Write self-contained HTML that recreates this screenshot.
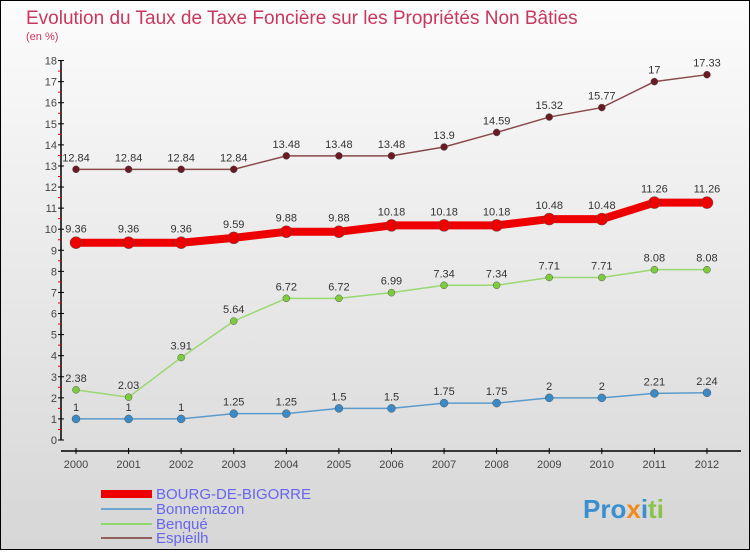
<!DOCTYPE html>
<html><head><meta charset="utf-8"><style>
html,body{margin:0;padding:0}
body{width:750px;height:550px;overflow:hidden;font-family:"Liberation Sans",sans-serif}
#wrap{position:absolute;left:0;top:0;width:748px;height:548px;border:1px solid #000;background:linear-gradient(#fcfcfc,#d6d6d6)}
</style></head><body>
<div id="wrap">
<svg id="chart" width="748" height="548" xmlns="http://www.w3.org/2000/svg">
<text x="25" y="23" font-size="19" fill="#c8385e">Evolution du Taux de Taxe Foncière sur les Propriétés Non Bâties</text>
<text x="25" y="39" font-size="11" fill="#c8385e">(en %)</text>
<g id="axes"></g><g id="series"></g>
<g>
<rect x="100" y="489" width="51" height="8" fill="#ee0000"/>
<text x="155" y="498" font-size="15" fill="#6666ee">BOURG-DE-BIGORRE</text>
<rect x="100" y="507" width="51" height="2" fill="#6fa6cc"/>
<text x="155" y="513" font-size="15" fill="#6666ee">Bonnemazon</text>
<rect x="100" y="522" width="51" height="2" fill="#8fd86a"/>
<text x="155" y="528" font-size="15" fill="#6666ee">Benqué</text>
<rect x="100" y="536" width="51" height="2" fill="#936060"/>
<text x="155" y="542" font-size="15" fill="#6666ee">Espieilh</text>
</g>
<g>
<text x="582" y="517" font-size="26" font-weight="bold" fill="#3a8fd0">Pro<tspan fill="#f08a20">x</tspan><tspan fill="#3a8fd0">i</tspan><tspan fill="#8bc34a">ti</tspan></text>
</g>
</svg></div>
<script>
const years=[2000,2001,2002,2003,2004,2005,2006,2007,2008,2009,2010,2011,2012];
const yTicks=[0,1,2,3,4,5,6,7,8,9,10,11,12,13,14,15,16,17,18];
const bourg=[9.36,9.36,9.36,9.59,9.88,9.88,10.18,10.18,10.18,10.48,10.48,11.26,11.26];
const bonnemazon=[1,1,1,1.25,1.25,1.5,1.5,1.75,1.75,2,2,2.21,2.24];
const benque=[2.38,2.03,3.91,5.64,6.72,6.72,6.99,7.34,7.34,7.71,7.71,8.08,8.08];
const espieilh=[12.84,12.84,12.84,12.84,13.48,13.48,13.48,13.9,14.59,15.32,15.77,17,17.33];
const NS="http://www.w3.org/2000/svg";
const x=i=>75+i*52.58, y=v=>439-v*21.08;
function mk(t,a,p){const e=document.createElementNS(NS,t);for(const k in a)e.setAttribute(k,a[k]);p.appendChild(e);return e;}
const ax=document.getElementById('axes');
const ya=mk('line',{x1:60,y1:y(18),x2:60,y2:y(0),stroke:'#000','stroke-width':1.5},ax);


yTicks.forEach(v=>{
 mk('line',{x1:57,x2:63,y1:y(v),y2:y(v),stroke:'#000'},ax);
 if(v<18)mk('line',{x1:57,x2:60,y1:y(v+0.5),y2:y(v+0.5),stroke:'#e00'},ax);
 const t=mk('text',{x:56,y:y(v)+4,'text-anchor':'end','font-size':11,fill:'#444'},ax);
 t.textContent=v;
 
 
});
const xa=mk('line',{x1:60,y1:450,x2:740,y2:450,stroke:'#000','stroke-width':1.5},ax);


years.forEach((yr,i)=>{
 mk('line',{x1:x(i),x2:x(i),y1:447,y2:453,stroke:'#000'},ax);
 const t=mk('text',{x:x(i),y:467,'text-anchor':'middle','font-size':11,fill:'#444'},ax);
 t.textContent=yr;
 
 
});
const sg=document.getElementById('series');
function series(data,name,color,w,r,dot){
 const g=mk('g',{},sg);
 
 
 const p=mk('polyline',{points:data.map((v,i)=>x(i)+','+y(v)).join(' '),fill:'none',stroke:color,'stroke-width':w},g);
 
 
 data.forEach((v,i)=>{
  const c=mk('circle',{cx:x(i),cy:y(v),r:r,fill:dot,stroke:'#555','stroke-width':0.5},g);
  
  
  const t=mk('text',{x:x(i),y:y(v)-8-(w>3?2:0),'text-anchor':'middle','font-size':11,fill:'#333'},g);
  t.textContent=v;
  
  
 });
}
series(espieilh,'espieilh','#8a4a4a',1.5,3.5,'#6a1a22');
series(benque,'benque','#9ad870',1.5,3.5,'#7ccc3c');
series(bonnemazon,'bonnemazon','#5b9bcc',1.5,4,'#3a8ac8');
series(bourg,'bourg','#ee0000',8,6,'#ee0000');
</script>
</body></html>
